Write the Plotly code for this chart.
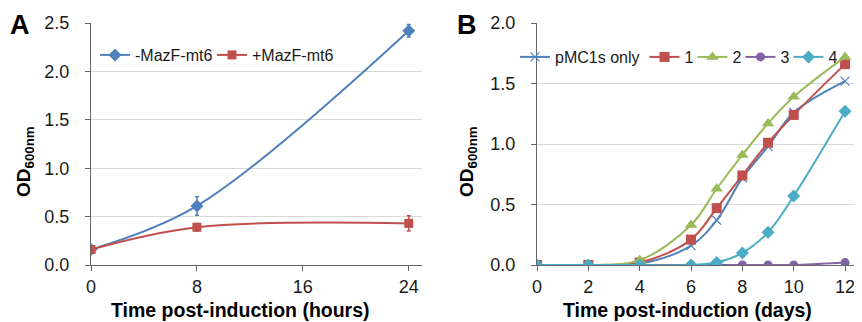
import plotly.graph_objects as go

# Panel A data
hours = [0, 8, 24]
minus_mazf = [0.16, 0.61, 2.42]
minus_mazf_err = [0.02, 0.095, 0.065]
plus_mazf = [0.16, 0.39, 0.43]
plus_mazf_err = [0.02, 0.04, 0.08]

# Panel B data
days = [0, 2, 4, 6, 7, 8, 9, 10, 12]
pmc1s_only = [0.0, 0.0, 0.01, 0.16, 0.37, 0.72, 0.98, 1.26, 1.52]
s1 = [0.0, 0.0, 0.02, 0.21, 0.47, 0.74, 1.01, 1.24, 1.66]
s2 = [0.0, 0.0, 0.04, 0.33, 0.63, 0.91, 1.17, 1.39, 1.72]
s3 = [0.0, 0.0, 0.0, 0.0, 0.0, 0.0, 0.0, 0.0, 0.02]
s4 = [0.0, 0.0, 0.0, 0.0, 0.02, 0.10, 0.27, 0.57, 1.27]

BLUE = "#4F81BD"
RED = "#C0504D"
GREEN = "#9BBB59"
PURPLE = "#8064A2"
CYAN = "#4BACC6"
FONT = "Liberation Sans"
TXT = "#1a1a1a"

# the page body has an 8px margin, so the figure starts at (8, 8)
OFF = 8
W, H = 862 - OFF, 322 - OFF
def px(x):
    return (x - OFF) / W
def py(y):
    return (H - (y - OFF)) / H

fig = go.Figure()

fig.add_trace(go.Scatter(x=hours, y=minus_mazf, name="-MazF-mt6", mode="lines+markers",
                         line=dict(color=BLUE, width=2, shape="spline"),
                         marker=dict(symbol="diamond", size=10, color=BLUE),
                         error_y=dict(type="data", array=minus_mazf_err, color=BLUE, thickness=1.5, width=2),
                         xaxis="x", yaxis="y", legend="legend", legendwidth=72))
fig.add_trace(go.Scatter(x=hours, y=plus_mazf, name="+MazF-mt6", mode="lines+markers",
                         line=dict(color=RED, width=2, shape="spline"),
                         marker=dict(symbol="square", size=9, color=RED),
                         error_y=dict(type="data", array=plus_mazf_err, color=RED, thickness=1.5, width=2),
                         xaxis="x", yaxis="y", legend="legend"))

b_series = [
    ("pMC1s only", pmc1s_only, BLUE, dict(symbol="x-thin", size=9, line=dict(color=BLUE, width=1.2)), None),
    ("1", s1, RED, dict(symbol="square", size=10), 3),
    ("2", s2, GREEN, dict(symbol="triangle-up", size=11), 3),
    ("3", s3, PURPLE, dict(symbol="circle", size=9), 3),
    ("4", s4, CYAN, dict(symbol="diamond", size=10), 3),
]
for i, (nm, ys, col, mk, lw) in enumerate(b_series):
    mk = dict(mk)
    mk["color"] = col
    kw = {}
    if lw is not None:
        kw["legendwidth"] = lw
    fig.add_trace(go.Scatter(x=days, y=ys, name=nm, mode="lines+markers",
                             line=dict(color=col, width=2, shape="spline"),
                             marker=mk, xaxis="x2", yaxis="y2", legend="legend2",
                             legendrank=i, **kw))

ydom = [py(265), py(23)]
axis_common = dict(showline=True, linecolor="#666666", linewidth=1.2,
                   ticks="outside", ticklen=5, tickcolor="#666666",
                   tickfont=dict(family=FONT, size=18, color=TXT),
                   zeroline=False, automargin=False)

fig.update_layout(
    width=W, height=H, margin=dict(l=0, r=0, t=0, b=0, autoexpand=False),
    paper_bgcolor="white", plot_bgcolor="white",
    font=dict(family=FONT, color=TXT),
    xaxis=dict(domain=[px(91), px(422)], range=[0, 25], tickvals=[0, 8, 16, 24],
               showgrid=False, anchor="y", **axis_common),
    yaxis=dict(domain=ydom, range=[0, 2.5], dtick=0.5, tickformat=".1f",
               showgrid=True, gridcolor="#d9d9d9", gridwidth=1, anchor="x",
               ticklabelstandoff=12, **axis_common),
    xaxis2=dict(domain=[px(537), 1.0], range=[0, 12.66], tickvals=[0, 2, 4, 6, 8, 10, 12],
                showgrid=False, anchor="y2", **axis_common),
    yaxis2=dict(domain=ydom, range=[0, 2.0], dtick=0.5, tickformat=".1f",
                showgrid=True, gridcolor="#d9d9d9", gridwidth=1, anchor="x2",
                ticklabelstandoff=12, **axis_common),
    legend=dict(orientation="h", x=px(95), y=py(38), xanchor="left", yanchor="top",
                font=dict(family=FONT, size=16, color=TXT), bgcolor="rgba(0,0,0,0)",
                itemwidth=30, tracegroupgap=0),
    legend2=dict(orientation="h", x=px(515), y=py(40), xanchor="left", yanchor="top",
                 font=dict(family=FONT, size=16, color=TXT), bgcolor="rgba(0,0,0,0)",
                 itemwidth=30, tracegroupgap=0),
    showlegend=True,
)

ann = [
    dict(text="<b>A</b>", x=px(8), y=py(8), size=27),
    dict(text="<b>B</b>", x=px(455), y=py(8), size=27),
]
for a in ann:
    fig.add_annotation(text=a["text"], x=a["x"], y=a["y"], xref="paper", yref="paper",
                       xanchor="left", yanchor="top", showarrow=False,
                       font=dict(family=FONT, size=a["size"], color="#000"))

for t, xc in [("<b>Time post-induction (hours)</b>", 240), ("<b>Time post-induction (days)</b>", 687)]:
    fig.add_annotation(text=t, x=px(xc), y=py(310), xref="paper", yref="paper",
                       xanchor="center", yanchor="middle", showarrow=False,
                       font=dict(family=FONT, size=19.5, color="#000"))
for xc in [25, 468]:
    fig.add_annotation(text="<b>OD<sub>600nm</sub></b>", x=px(xc), y=py(162), xref="paper", yref="paper",
                       xanchor="center", yanchor="middle", showarrow=False, textangle=-90,
                       font=dict(family=FONT, size=19, color="#000"))

fig.write_html("out.html")
